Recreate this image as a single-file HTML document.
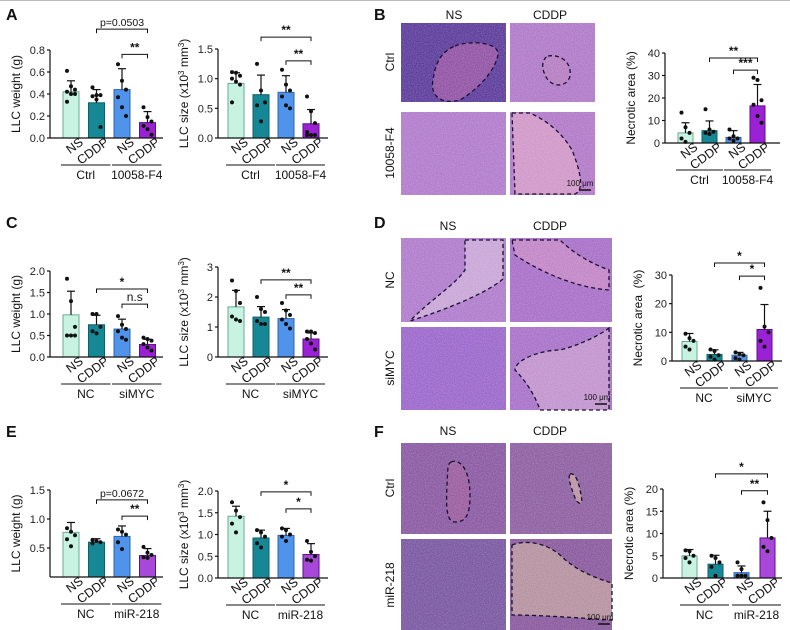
<!DOCTYPE html>
<html><head><meta charset="utf-8"><style>
html,body{margin:0;padding:0;background:#fff;}
svg{display:block;font-family:"Liberation Sans",Arial,sans-serif;}
</style></head><body>
<svg id="fig" width="790" height="630" viewBox="0 0 790 630">
<defs>
<filter id="grain" x="0" y="0" width="100%" height="100%"><feTurbulence type="fractalNoise" baseFrequency="0.9" numOctaves="2" seed="3"/><feColorMatrix type="matrix" values="0 0 0 0 1  0 0 0 0 1  0 0 0 0 1  0 0 0 -1.6 1.1"/></filter>
</defs>
<line x1="0" y1="0.5" x2="790" y2="0.5" stroke="#bbb" stroke-width="1"/>
<g font-weight="bold" font-size="16" fill="#111">
<text x="6" y="20">A</text>
<text x="374" y="20">B</text>
<text x="6" y="228">C</text>
<text x="374" y="228">D</text>
<text x="6" y="437">E</text>
<text x="374" y="437">F</text>
</g>
<g id="histo"></g>
<g id="charts"></g>
</svg>
<script>
// ---- chart data ----
const conds = ['NS','CDDP','NS','CDDP'];
const aWMeans=[0.42,0.32,0.44,0.14], aWErr=[0.10,0.12,0.19,0.10];
const aWDots=[[0.61,0.47,0.44,0.42,0.40,0.40,0.33],[0.46,0.39,0.39,0.38,0.35,0.10],[0.67,0.52,0.44,0.37,0.28,0.20],[0.28,0.19,0.15,0.11,0.08,0.03]];
const aWTicks=[0,0.2,0.4,0.6,0.8], aWTickLabels=['0.0','0.2','0.4','0.6','0.8'];
const aSMeans=[0.92,0.73,0.77,0.24], aSErr=[0.18,0.33,0.28,0.24];
const aSDots=[[1.11,1.10,1.05,1.0,0.95,0.9,0.6],[1.25,0.8,0.6,0.55,0.28],[1.15,0.9,0.8,0.7,0.55,0.5],[0.7,0.45,0.25,0.1,0.05,0.05,0.05]];
const aSTicks=[0,0.5,1,1.5], aSTickLabels=['0.0','0.5','1.0','1.5'];
const bMeans=[4.5,5.5,2.5,16.5], bErr=[4.5,4.3,3,9.5];
const bDots=[[13.5,7,4.5,2,0.5],[15,6,5,4.5,4],[6,3,2,2,1],[29,28,19,17,12,9]];
const bTicks=[0,10,20,30,40], bTickLabels=['0','10','20','30','40'];
const cWMeans=[0.98,0.75,0.65,0.29], cWErr=[0.55,0.22,0.23,0.12];
const cWDots=[[1.82,1.3,0.7,0.5,0.5,0.5],[1.0,1.0,0.7,0.6,0.55],[0.95,0.75,0.65,0.6,0.45,0.4],[0.45,0.42,0.38,0.3,0.22,0.15]];
const cWTicks=[0,0.5,1,1.5,2], cWTickLabels=['0.0','0.5','1.0','1.5','2.0'];
const cSMeans=[1.67,1.33,1.28,0.6], cSErr=[0.55,0.35,0.3,0.2];
const cSDots=[[2.55,2.2,1.8,1.35,1.25,1.2],[2.0,1.6,1.5,1.2,1.1,1.1],[1.8,1.55,1.4,1.25,1.1,0.95],[0.85,0.85,0.8,0.6,0.45,0.25]];
const cSTicks=[0,1,2,3], cSTickLabels=['0','1','2','3'];
const dMeans=[6.8,2.3,2,11], dErr=[2.8,1.6,1,8.7];
const dDots=[[9.5,8,7,5,4],[4,3.5,2,1.5,0.5],[3,2.5,2,1,0.5],[25.5,12,10,7,5]];
const dTicks=[0,10,20,30], dTickLabels=['0','10','20','30'];
const eWMeans=[0.77,0.6,0.7,0.37], eWErr=[0.17,0.06,0.18,0.12];
const eWDots=[[0.84,0.78,0.72,0.65,0.53],[0.64,0.62,0.60,0.58],[0.82,0.78,0.73,0.6,0.48],[0.52,0.42,0.38,0.34,0.33]];
const eWTicks=[0.5,1,1.5], eWTickLabels=['0.5','1.0','1.5'];
const eSMeans=[1.42,0.92,0.98,0.54], eSErr=[0.23,0.18,0.16,0.25];
const eSDots=[[1.74,1.55,1.4,1.25,1.05],[1.1,1.05,0.95,0.8,0.7],[1.14,1.1,1.0,0.95,0.85],[0.85,0.6,0.5,0.42,0.4]];
const eSTicks=[0,0.5,1,1.5,2], eSTickLabels=['0.0','0.5','1.0','1.5','2.0'];
const fMeans=[5,3.1,1.2,9], fErr=[1.4,2,1.5,6];
const fDots=[[6.2,6,5,4.5,3.5],[5,4.5,3.5,2.5,0.5],[3.5,2,0.5,0.5,0.5],[17,13,9,7,6]];
const fTicks=[0,5,10,15,20], fTickLabels=['0','5','10','15','20'];
const aGroups=['Ctrl','10058-F4'], cGroups=['NC','siMYC'], eGroups=['NC','miR-218'];
const aWBrackets=[[1,3,0.99,'p=0.0503'],[2,3,0.76,'**']];
const aSBrackets=[[1,3,1.70,'**'],[2,3,1.30,'**']];
const bBrackets=[[1,3,37.8,'**'],[2,3,32.4,'***']];
const cWBrackets=[[1,3,1.58,'*'],[2,3,1.23,'n.s']];
const cSBrackets=[[1,3,2.57,'**'],[2,3,2.07,'**']];
const dBrackets=[[1,3,34.2,'*'],[2,3,29.6,'*']];
const eWBrackets=[[1,3,1.33,'p=0.0672'],[2,3,1.05,'**']];
const eSBrackets=[[1,3,1.98,'*'],[2,3,1.59,'*']];
const fBrackets=[[1,3,23.4,'*'],[2,3,19.6,'**']];

const NS='http://www.w3.org/2000/svg';
function mk(tag,attrs,parent){const e=document.createElementNS(NS,tag);for(const k in attrs)e.setAttribute(k,attrs[k]);parent.appendChild(e);return e;}
const fills=['#c8f2e2','#168895','#4f94ea','#9a22d4'];
const strokes=['#6aa896','#0d5f68','#2f63b0','#5e0e8a'];

function chart(name,g0,x0,xEnd,yTop,yBot,maxV,minV,ticks,tickLabels,off,step,bw,means,errs,dots,groups,brackets,ylabel,purple){
  const root=document.getElementById('charts');
  const g=mk('g',{},root);
  
  
  const y=v=>yBot-(v-minV)/(maxV-minV)*(yBot-yTop);
  const cx=i=>x0+off+i*step+bw/2;
  means.forEach((m,i)=>{
    const r=mk('rect',{x:cx(i)-bw/2,y:y(m),width:bw,height:yBot-y(m),fill:i==3&&purple?purple:fills[i],stroke:strokes[i],'stroke-width':1},g);
    
    
    const eg=mk('g',{stroke:'#111','stroke-width':1.2},g);
    
    
    mk('line',{x1:cx(i),x2:cx(i),y1:y(m),y2:y(m+errs[i])},eg);
    mk('line',{x1:cx(i)-4,x2:cx(i)+4,y1:y(m+errs[i]),y2:y(m+errs[i])},eg);
    const n=dots[i].length;
    dots[i].forEach((d,j)=>{
      const dx=(j%3-1)*4*(n>3?1:0);
      const c=mk('circle',{cx:cx(i)+dx,cy:y(d),r:2,fill:'#111'},g);
      
      
    });
  });
  const ax=mk('g',{stroke:'#111','stroke-width':1.2,fill:'none'},g);
  
  
  mk('line',{x1:x0,x2:x0,y1:y(maxV),y2:yBot},ax);
  mk('line',{x1:x0,x2:xEnd,y1:yBot,y2:yBot},ax);
  ticks.forEach((t,k)=>{
    mk('line',{x1:x0-3,x2:x0,y1:y(t),y2:y(t)},ax);
    const tx=mk('text',{x:x0-5,y:y(t)+4,'font-size':11,'text-anchor':'end',fill:'#222'},g);
    tx.textContent=tickLabels[k];
    
    
  });
  const yl=mk('text',{transform:`translate(${x0-30},${(yTop+yBot)/2}) rotate(-90)`,'font-size':12,'text-anchor':'middle',fill:'#111'},g);
  yl.innerHTML=ylabel;
  
  
  conds.forEach((c,i)=>{
    const t=mk('text',{transform:`translate(${cx(i)+13},${yBot+6}) rotate(-36)`,'font-size':12.5,'text-anchor':'end',fill:'#111'},g);
    t.textContent=c;
    
    
  });
  groups.forEach((gn,k)=>{
    const a=cx(2*k)-bw/2-2, b=cx(2*k+1)+bw/2+6;
    const l=mk('line',{x1:a,x2:b,y1:yBot+27,y2:yBot+27,stroke:'#111','stroke-width':1},g);
    
    
    const t=mk('text',{x:(a+b)/2,y:yBot+41,'font-size':12,'text-anchor':'middle',fill:'#111'},g);
    t.textContent=gn;
    
    
  });
  brackets.forEach(br=>{
    const yy=y(br[2]);
    const p=mk('path',{d:`M${cx(br[0])},${yy+4}V${yy}H${cx(br[1])}V${yy+4}`,stroke:'#111','stroke-width':1,fill:'none'},g);
    
    
    const t=mk('text',{x:(cx(br[0])+cx(br[1]))/2,y:yy-3,'font-size':br[3].length>3?10.5:12,'font-weight':br[3][0]=='*'?'bold':'normal','text-anchor':'middle',fill:'#111'},g);
    t.textContent=br[3];
    
    
  });
}
const wl='LLC weight (g)';
const sl='LLC size (x10<tspan dy="-4" font-size="8">3</tspan><tspan dy="4"> mm</tspan><tspan dy="-4" font-size="8">3</tspan><tspan dy="4">)</tspan>';
chart('chart-a-weight',0,50,163,50,138,0.8,0,aWTicks,aWTickLabels,13,25.5,16,aWMeans,aWErr,aWDots,aGroups,aWBrackets,wl);
chart('chart-a-size',0,218,328,49,138,1.5,0,aSTicks,aSTickLabels,10,25,16,aSMeans,aSErr,aSDots,aGroups,aSBrackets,sl);
chart('chart-b-necrotic',0,665,780,53,143,40,0,bTicks,bTickLabels,13,24,15,bMeans,bErr,bDots,aGroups,bBrackets,'Necrotic area (%)');
chart('chart-c-weight',0,50,163,271,357,2,0,cWTicks,cWTickLabels,13,25.5,16,cWMeans,cWErr,cWDots,cGroups,cWBrackets,wl);
chart('chart-c-size',0,218,328,267,357,3,0,cSTicks,cSTickLabels,10,25,16,cSMeans,cSErr,cSDots,cGroups,cSBrackets,sl);
chart('chart-d-necrotic',0,672,782,275,361,30,0,dTicks,dTickLabels,10,25,15,dMeans,dErr,dDots,cGroups,dBrackets,'Necrotic area &#160;(%)');
chart('chart-e-weight',0,50,163,490,577,1.5,0,eWTicks,eWTickLabels,13,25.5,16,eWMeans,eWErr,eWDots,eGroups,eWBrackets,wl,'#a848d8');
chart('chart-e-size',0,218,328,491,578,2,0,eSTicks,eSTickLabels,10,25,16,eSMeans,eSErr,eSDots,eGroups,eSBrackets,sl,'#a848d8');
chart('chart-f-necrotic',0,663,782,489,578,20,0,fTicks,fTickLabels,19,26,15,fMeans,fErr,fDots,eGroups,fBrackets,'Necrotic area (%)','#a848d8');

// ---- histology images ----
const H=document.getElementById('histo');
function img(name,x,y,w,h,c1,c2,outline,lesion){
  const g=mk('g',{},H);
  
  
  mk('rect',{x:x,y:y,width:w,height:h,fill:c1},g);
  if(lesion){mk('path',{d:outline,fill:lesion,opacity:0.8},g);}
  mk('rect',{x:x,y:y,width:w,height:h,fill:'#fff',filter:'url(#grain)',opacity:0.25},g);
  if(outline){mk('path',{d:outline,fill:'none',stroke:'#1a1030','stroke-width':1.3,'stroke-dasharray':'4 3'},g);}
}
function lbl(txt,x,y,rot,name,fs){
  const t=mk('text',{transform:`translate(${x},${y})`+(rot?' rotate(-90)':''),'font-size':fs||12,'text-anchor':'middle',fill:'#111'},H);
  t.textContent=txt;
  
  
}
function sbar(x,y){const l=mk('line',{x1:x-6,x2:x+6,y1:y+4,y2:y+4,stroke:'#111','stroke-width':1.5},H);}
// B
lbl('NS',454,19,0,'column-label-ns');lbl('CDDP',550,19,0,'column-label-cddp');
lbl('Ctrl',394,62,1,'row-label-ctrl');lbl('10058-F4',394,153,1,'row-label-10058-f4');
img('histology-ctrl-ns',401,23,105,79,'#5d3d9c','',`M455,46 C470,40 500,42 498,55 C495,70 480,88 460,100 C440,105 430,95 433,80 C435,65 440,52 455,46Z`,'#a05aa8');
img('histology-ctrl-cddp',510,23,85,79,'#b07ac8','',`M548,56 C560,54 572,62 570,76 C568,86 555,88 548,80 C542,72 540,60 548,56Z`,'#b880c0');
img('histology-10058-ns',401,112,105,83,'#b17ccc','','','');
img('histology-10058-cddp',510,112,85,83,'#b27ac8','',`M512,113 L530,113 C545,120 560,130 572,150 C580,170 585,190 575,194 L515,194 Z`,'#d7a0c8');
lbl('100 μm',580,186,0,'scale-bar-b',8);sbar(585,186);
// D
lbl('NS',448,230,0,'column-label-ns-d');lbl('CDDP',550,230,0,'column-label-cddp-d');
lbl('NC',394,280,1,'row-label-nc');lbl('siMYC',394,368,1,'row-label-simyc');
img('histology-nc-ns',401,238,105,84,'#b07ccc','',`M465,240 L503,240 L503,279 C490,290 460,305 410,321 C430,300 455,285 465,270 Z`,'#d0b0da');
img('histology-nc-cddp',510,238,102,84,'#a870c8','',`M512,240 L560,240 C575,255 595,265 609,270 L609,290 C580,288 545,275 515,255 Z`,'#c88cc8');
img('histology-simyc-ns',401,327,105,83,'#9b68cc','','','');
img('histology-simyc-cddp',510,327,102,83,'#a872c8','',`M609,328 L609,410 L540,410 C535,395 525,380 515,370 C515,360 540,350 560,350 C580,345 600,335 609,328 Z`,'#c89cd0');
lbl('100 μm',597,400,0,'scale-bar-d',8);sbar(601,400);
// F
lbl('NS',448,435,0,'column-label-ns-f');lbl('CDDP',550,435,0,'column-label-cddp-f');
lbl('Ctrl',394,488,1,'row-label-ctrl-f');lbl('miR-218',394,585,1,'row-label-mir218');
img('histology-f-ctrl-ns',401,443,105,91,'#8a5aa2','',`M451,462 C460,458 470,470 470,495 C470,515 466,522 455,522 C446,522 446,505 447,485 C448,470 447,464 451,462Z`,'#9e5fa0');
img('histology-f-ctrl-cddp',510,443,102,91,'#8e60a2','',`M570,474 C576,472 580,485 582,502 C580,505 576,502 574,495 C570,485 568,477 570,474Z`,'#c8a0a8');
img('histology-f-mir-ns',401,539,105,91,'#7a58a2','','','');
img('histology-f-mir-cddp',510,539,102,91,'#8a5a9e','',`M512,545 C525,540 545,542 560,555 C575,570 595,578 612,583 L612,620 C580,618 540,615 512,615 Z`,'#c0a0a0');
lbl('100 μm',600,620,0,'scale-bar-f',8);sbar(604,620);
</script>
</body></html>
